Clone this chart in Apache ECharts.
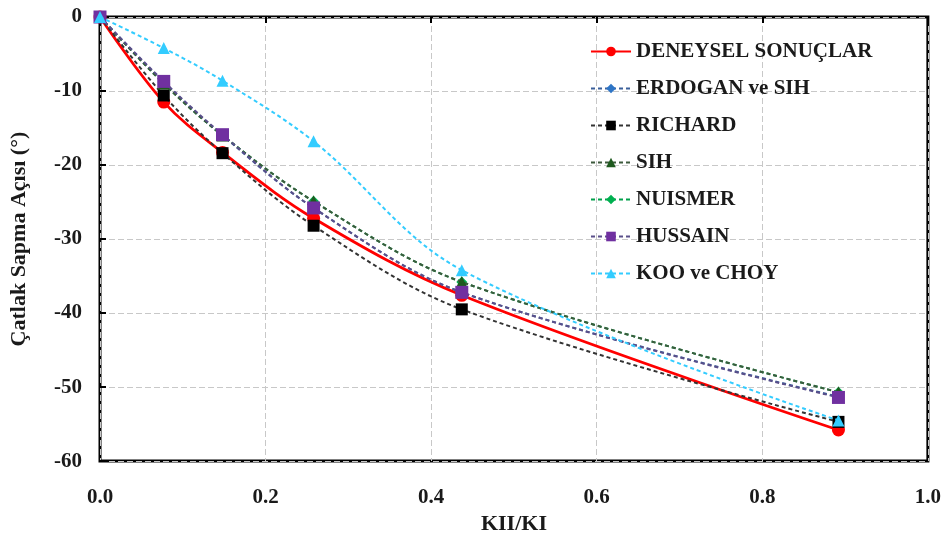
<!DOCTYPE html>
<html><head><meta charset="utf-8">
<script src="https://cdn.jsdelivr.net/npm/echarts@6/dist/echarts.min.js"></script>
<style>html,body{margin:0;padding:0;background:#fff}#c{width:944px;height:540px}</style>
</head><body><div id="c"></div>
<script>
const xValues = [0, 0.077, 0.148, 0.258, 0.437, 0.892];
const deneysel = [0, -11.5, -18.3, -27.2, -37.6, -55.8];
const erdogan = [0, -8.8, -16.0, -25.8, -37.2, -51.3];
const richard = [0, -10.6, -18.4, -28.2, -39.5, -54.7];
const sih = [0, -9.0, -16.0, -24.9, -35.8, -50.7];
const nuismer = [0, -9.0, -16.0, -24.9, -35.8, -50.7];
const hussain = [0, -8.7, -15.9, -25.8, -37.2, -51.4];
const koo = [0, -4.2, -8.6, -16.8, -34.2, -54.5];
const seriesNames = ['DENEYSEL SONUÇLAR', 'ERDOGAN ve SIH', 'RICHARD', 'SIH', 'NUISMER', 'HUSSAIN', 'KOO ve CHOY'];
const xTicks = [0, 0.2, 0.4, 0.6, 0.8, 1.0];
const yTicks = [0, -10, -20, -30, -40, -50, -60];

const pair = arr => xValues.map((x, i) => [x, arr[i]]);
const font = '"Liberation Serif", "Times New Roman", serif';

function mk(name, arr, color, symbol, size, solid, lineColor, z) {
  return {
    name, type: 'line', data: pair(arr), smooth: 0.35,
    symbol, symbolSize: size, z: z,
    itemStyle: { color },
    lineStyle: { color: lineColor || color, width: solid ? 2.8 : 2, type: solid ? 'solid' : [4, 3] },
    emphasis: { disabled: true }
  };
}

const chart = echarts.init(document.getElementById('c'), null, { renderer: 'canvas' });
chart.setOption({
  animation: false,
  backgroundColor: '#fff',
  grid: { left: 99, right: 15, top: 17, bottom: 78, show: true, borderColor: '#000', borderWidth: 3, backgroundColor: 'transparent' },
  legend: {
    orient: 'vertical', left: 585, top: 36, itemGap: 16, itemWidth: 40, itemHeight: 12,
    textStyle: { fontFamily: font, fontWeight: 'bold', fontSize: 21, color: '#1a1a1a' },
    data: seriesNames
  },
  xAxis: [{
    type: 'value', min: 0, max: 1, interval: 0.2,
    name: 'KII/KI', nameLocation: 'middle', nameGap: 50,
    nameTextStyle: { fontFamily: font, fontWeight: 'bold', fontSize: 22, color: '#1a1a1a' },
    axisLine: { show: false },
    axisTick: { show: false },
    axisLabel: { margin: 26, fontFamily: font, fontWeight: 'bold', fontSize: 21, color: '#1a1a1a', formatter: v => xTicks.includes(+v.toFixed(1)) ? v.toFixed(1) : '' },
    splitLine: { show: true, lineStyle: { color: '#c8c8c8', type: [6, 3], width: 1 } }
  }, {
    type: 'value', min: 0, max: 1, interval: 0.2, position: 'top',
    axisLine: { show: false }, axisLabel: { show: false }, splitLine: { show: false },
    axisTick: { show: true, inside: true, length: 6, lineStyle: { color: '#000', width: 2 } }
  }],
  yAxis: [{
    type: 'value', min: -60, max: 0, interval: 10,
    name: 'Çatlak Sapma Açısı (°)', nameLocation: 'middle', nameGap: 70, nameRotate: 90,
    nameTextStyle: { fontFamily: font, fontWeight: 'bold', fontSize: 22, color: '#1a1a1a' },
    axisLine: { show: false },
    axisTick: { show: true, inside: true, length: 6, lineStyle: { color: '#000', width: 2 } },
    axisLabel: { margin: 18, fontFamily: font, fontWeight: 'bold', fontSize: 21, color: '#1a1a1a', formatter: v => yTicks.includes(v) ? String(v) : '' },
    splitLine: { show: true, lineStyle: { color: '#c8c8c8', type: [6, 3], width: 1 } }
  }],
  series: [
    mk(seriesNames[1], erdogan, '#2e75c6', 'diamond', 11, false, '#3a5f9a', 3),
    mk(seriesNames[2], richard, '#000000', 'rect', 12, false, '#333333', 4),
    mk(seriesNames[3], sih, '#1e5a1e', 'triangle', 12, false, '#3d5a3d', 5),
    mk(seriesNames[4], nuismer, '#00b050', 'diamond', 11, false, '#00a04a', 2),
    mk(seriesNames[5], hussain, '#7030a0', 'rect', 13, false, '#5a4f8a', 6),
    mk(seriesNames[6], koo, '#33ccff', 'triangle', 12, false, '#33ccff', 7),
    mk(seriesNames[0], deneysel, '#ff0000', 'circle', 13, true, '#ff0000', 1)
  ]
});
</script></body></html>
